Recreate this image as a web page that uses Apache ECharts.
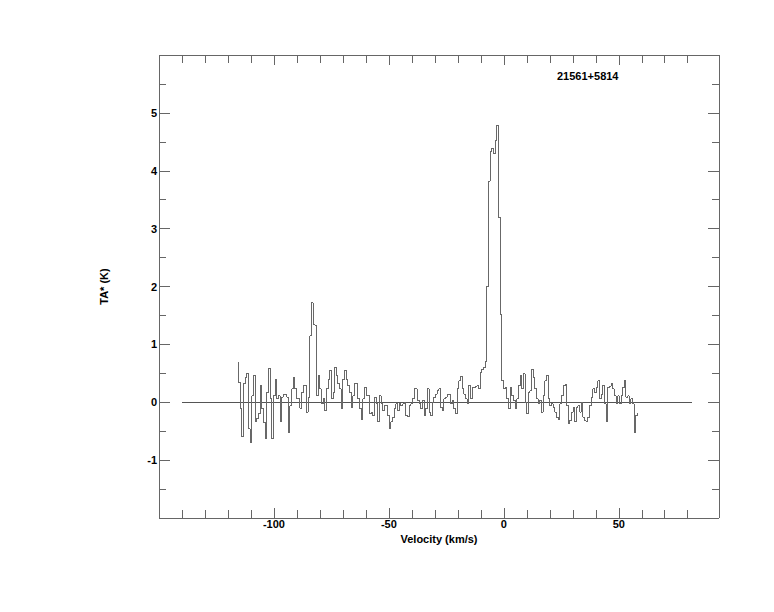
<!DOCTYPE html>
<html>
<head>
<meta charset="utf-8">
<script src="https://cdn.jsdelivr.net/npm/echarts@6/dist/echarts.min.js"></script>
<style>html,body{margin:0;padding:0;background:#fff;}#c{width:774px;height:612px;}#c svg path{shape-rendering:crispEdges;}</style>
</head>
<body>
<div id="c"></div>
<script>
// Spectrum channels: first channel velocity and channel width (km/s)
const channelStart = -115.7;
const channelWidth = 0.72;
// Antenna temperature TA* (K) per channel
const ta = [
 0.69,0.34,-0.1,-0.6,0.32,0.43,0.5,-0.46,-0.69,0.11,
 0.46,-0.34,-0.28,-0.2,0.29,-0.11,-0.35,-0.63,0.17,0.59,
 0.06,-0.63,0.11,0.39,0.06,0.11,-0.34,0.09,0.13,0.13,
 0.09,-0.52,-0.06,0.23,0.43,0.23,0.06,0.07,-0.1,0.17,
 0.29,0.29,-0.17,0.09,1.15,1.72,1.35,1.33,0.11,0.46,
 0.23,-0.03,0.06,-0.14,0.23,0.4,0.55,0.06,0.17,0.6,
 0.46,0.32,0.23,-0.11,0.4,0.55,0.4,0.29,0.17,-0.09,
 0.11,0.32,0.32,0.06,-0.11,-0.29,0.06,0.26,0.11,0.11,
 -0.2,-0.17,-0.23,0.09,-0.03,-0.34,0.11,-0.03,-0.14,-0.06,
 -0.05,-0.23,-0.46,-0.34,-0.26,-0.11,-0.03,-0.14,-0.03,-0.06,
 -0.03,0,-0.23,-0.25,-0.06,-0.03,0.06,0.23,0.23,0.03,
 -0.03,-0.11,0.03,-0.23,-0.11,0.23,-0.17,-0.23,0.0,0.09,
 0.14,0.2,0.23,-0.09,-0.14,0.06,0.09,0.13,0.14,-0.03,
 0.03,-0.11,-0.2,0.23,0.37,0.45,0.23,0.14,0.06,-0.03,
 0.29,0.06,0.26,0.26,0.28,0.29,0.24,0.52,0.57,0.6,
 0.7,2.0,3.82,4.33,4.39,4.3,4.52,4.78,3.2,1.52,
 0.37,0.23,0.26,0.06,-0.11,0.26,0.11,0.03,-0.11,0.06,
 0.29,0.46,0.23,0.49,0,-0.2,0.17,0.2,0.57,0.43,
 0.23,0.06,-0.03,0.03,-0.17,0.11,0.37,0.46,0.06,-0.06,
 -0.03,-0.09,-0.17,-0.26,-0.29,-0.03,0.11,0.29,0.3,-0.05,
 -0.37,-0.32,-0.17,-0.09,-0.34,-0.09,-0.06,-0.17,0,-0.26,
 -0.32,-0.34,-0.26,-0.06,0.09,0.23,0.17,0.26,0.37,0.06,
 0.14,0.29,-0.03,-0.34,0.26,0.28,0.32,0.23,0.11,-0.03,
 0.11,-0.03,0.11,0.26,0.37,0.09,0.11,-0.03,0.06,-0.03,
 -0.52,-0.23,-0.2
];
// Zero baseline extent (km/s)
const baseline = [[-140, 0], [82, 0]];
// Tick values
const xMajor = [-100, -50, 0, 50];
const xMinor = [-140,-130,-120,-110,-100,-90,-80,-70,-60,-50,-40,-30,-20,-10,0,10,20,30,40,50,60,70,80];
const yMajor = [-1, 0, 1, 2, 3, 4, 5];
const yMinor = [-1.5,-0.5,0.5,1.5,2.5,3.5,4.5,5.5];
const titleText = '21561+5814';
const xName = 'Velocity (km/s)';
const yName = 'TA* (K)';

const spectrum = ta.map((t, i) => [channelStart + channelWidth * i, t]);

const axisColor = '#666';
const font = 'Liberation Sans, Arial, Helvetica, sans-serif';
const XMIN = -150, XMAX = 93.6, YMIN = -2, YMAX = 6;

function xAx(pos, ticks, len, showLine, labels) {
  return {
    type: 'value', position: pos, min: XMIN, max: XMAX,
    axisLine: { show: showLine, onZero: false, lineStyle: { color: axisColor, width: 1 } },
    axisTick: { show: true, inside: true, length: len, customValues: ticks, lineStyle: { color: axisColor, width: 1 } },
    axisLabel: labels ? { show: true, customValues: ticks, color: '#000', fontFamily: font, fontWeight: 'bold', fontSize: 11, margin: 0 } : { show: false },
    splitLine: { show: false },
    name: labels ? xName : '', nameLocation: 'middle', nameGap: 9,
    nameTextStyle: { color: '#000', fontFamily: font, fontWeight: 'bold', fontSize: 11 }
  };
}
function yAx(pos, ticks, len, showLine, labels) {
  return {
    type: 'value', position: pos, min: YMIN, max: YMAX,
    axisLine: { show: showLine, onZero: false, lineStyle: { color: axisColor, width: 1 } },
    axisTick: { show: true, inside: true, length: len, customValues: ticks, lineStyle: { color: axisColor, width: 1 } },
    axisLabel: labels ? { show: true, customValues: ticks, color: '#000', fontFamily: font, fontWeight: 'bold', fontSize: 11, margin: 2 } : { show: false },
    splitLine: { show: false },
    name: labels ? yName : '', nameLocation: 'middle', nameGap: 50, nameRotate: 90,
    nameTextStyle: { color: '#000', fontFamily: font, fontWeight: 'bold', fontSize: 11 }
  };
}

const chart = echarts.init(document.getElementById('c'), null, { renderer: 'svg' });
chart.setOption({
  backgroundColor: '#fff',
  animation: false,
  title: {
    text: titleText, left: 557, top: 70, padding: 0,
    textStyle: { color: '#000', fontFamily: font, fontWeight: 'bold', fontSize: 11 }
  },
  grid: { left: 159, top: 55, right: 55, bottom: 94, containLabel: false },
  xAxis: [
    xAx('bottom', xMajor, 10, true, true),
    xAx('bottom', xMinor, 8, false, false),
    xAx('top', xMajor, 10, true, false),
    xAx('top', xMinor, 8, false, false)
  ],
  yAxis: [
    yAx('left', yMajor, 11, true, true),
    yAx('left', yMinor, 7, false, false),
    yAx('right', yMajor, 11, true, false),
    yAx('right', yMinor, 7, false, false)
  ],
  series: [
    {
      type: 'line', data: baseline, xAxisIndex: 0, yAxisIndex: 0,
      symbol: 'none', lineStyle: { color: '#555', width: 1 }, silent: true
    },
    {
      type: 'line', data: spectrum, xAxisIndex: 0, yAxisIndex: 0, step: 'middle',
      symbol: 'none', lineStyle: { color: '#686868', width: 1 }, silent: true
    }
  ]
});
</script>
</body>
</html>
